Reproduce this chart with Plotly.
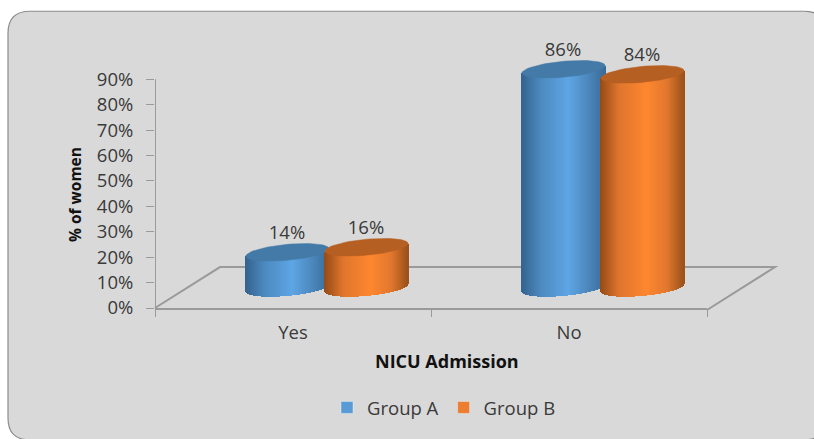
import numpy as np
import plotly.graph_objects as go

categories = ["Yes", "No"]
group_a = [14, 86]
group_b = [16, 84]
y_ticks = [0, 10, 20, 30, 40, 50, 60, 70, 80, 90]

W, H = 814, 439
L, R, B = 155, 707, 308                 # plot rectangle in pixels
PX_X = (R - L) / 2.0                    # pixels per category
PX_Y = (B - 79) / 90.0                  # pixels per percent
Y_MAX = 118                             # axis continues invisibly above 90 so the cylinders fit
T = B - Y_MAX * PX_Y
A_PX, B_PX, TILT = 41.5, 8.0, 0.09      # cylinder ellipse
BASE = 7.9                              # floor height of the cylinder base, percent
TEXT = "#3a3a3a"
TITLE = "#111111"
LINE = "#9a9a9a"
FONT = "Open Sans"
FS = 18.5


def px(x):
    return (x - L) / (R - L)


def py(y):
    return (B - y) / (B - T)


def shade(u, stops):
    pos = [-1, -0.55, 0.12, 0.6, 1]
    c = [np.interp(u, pos, [s[i] for s in stops]) for i in range(3)]
    return "rgb(%d,%d,%d)" % tuple(c)


def cylinder(values, shift_px, stops, cap):
    xs, ys, bases, cols = [], [], [], []
    cap_traces = []
    for i, v in enumerate(values):
        xc = i + shift_px / PX_X
        for d in np.arange(-A_PX, A_PX + 0.5, 1.0):
            u = d / A_PX
            front = B_PX * np.sqrt(max(0, 1 - u * u)) / PX_Y
            rise = TILT * d / PX_Y
            xs.append(xc + d / PX_X)
            bases.append(BASE + rise - front)
            ys.append(v + front)
            cols.append(shade(u, stops))
        t = np.linspace(0, 2 * np.pi, 73)
        cap_traces.append(go.Scatter(
            x=xc + A_PX * np.cos(t) / PX_X,
            y=v + BASE + (TILT * A_PX * np.cos(t) + B_PX * np.sin(t)) / PX_Y,
            mode="lines", fill="toself", fillcolor=cap, line=dict(color=cap, width=0.5),
            hoverinfo="skip", showlegend=False))
    bars = go.Bar(x=xs, y=ys, base=bases, width=1.4 / PX_X,
                  marker=dict(color=cols, line=dict(width=0)),
                  hoverinfo="skip", showlegend=False)
    return bars, cap_traces


BLUE = [(52, 100, 143), (77, 137, 191), (94, 166, 230), (76, 136, 190), (58, 108, 152)]
ORANGE = [(150, 76, 22), (224, 118, 46), (255, 135, 48), (226, 120, 46), (156, 82, 26)]
SHIFT_A, SHIFT_B = -5.5, 73.5

fig = go.Figure()
bars_a, caps_a = cylinder(group_a, SHIFT_A, BLUE, "#447aa8")
bars_b, caps_b = cylinder(group_b, SHIFT_B, ORANGE, "#b65f22")
fig.add_trace(bars_a)
fig.add_trace(bars_b)
for c in caps_a + caps_b:
    fig.add_trace(c)

for vals, shift in ((group_a, SHIFT_A), (group_b, SHIFT_B)):
    fig.add_trace(go.Scatter(
        x=[i + (shift - 0.5) / PX_X for i in range(len(vals))],
        y=[v + BASE + 7.1 for v in vals],
        text=["%d%%" % v for v in vals], mode="text", textposition="middle center",
        textfont=dict(family=FONT, size=FS, color=TEXT),
        hoverinfo="skip", showlegend=False))

# y axis line only up to the last tick
fig.add_trace(go.Scatter(x=[-0.5, -0.5], y=[y_ticks[0], y_ticks[-1]], mode="lines",
                         line=dict(color=LINE, width=2), cliponaxis=False,
                         hoverinfo="skip", showlegend=False))

fig.add_trace(go.Bar(x=[None], y=[None], name="Group A", marker_color="#5b9bd5"))
fig.add_trace(go.Bar(x=[None], y=[None], name="Group B", marker_color="#ed7d31"))

# rounded chart panel, in pixel positions converted to paper coordinates
x0, y0, x1, y1, r = 8, 11, 826, 440, 22
panel = (f"M{px(x0)},{py(y0 + r)} Q{px(x0)},{py(y0)} {px(x0 + r)},{py(y0)} "
         f"L{px(x1 - r)},{py(y0)} Q{px(x1)},{py(y0)} {px(x1)},{py(y0 + r)} "
         f"L{px(x1)},{py(y1 - r)} Q{px(x1)},{py(y1)} {px(x1 - r)},{py(y1)} "
         f"L{px(x0 + r)},{py(y1)} Q{px(x0)},{py(y1)} {px(x0)},{py(y1 - r)} Z")
floor = f"M{px(155)},{py(308)} L{px(220)},{py(267)} L{px(775)},{py(267)} L{px(707)},{py(310)}"

fig.update_layout(
    width=W, height=H, autosize=False,
    margin=dict(l=L, r=W - R, t=T, b=H - B, pad=0),
    paper_bgcolor="white", plot_bgcolor="rgba(0,0,0,0)",
    barmode="overlay", bargap=0,
    font=dict(family=FONT, size=FS, color=TEXT),
    shapes=[
        dict(type="path", xref="paper", yref="paper", path=panel, layer="below",
             fillcolor="#d9d9d9", line=dict(color="#8c8c8c", width=1.2)),
        dict(type="path", xref="paper", yref="paper", path=floor, layer="below",
             line=dict(color=LINE, width=2)),
    ],
    xaxis=dict(
        range=[-0.5, 1.5], tickmode="array", tickvals=[0, 1], ticktext=categories,
        showgrid=False, zeroline=False, showline=True, linecolor=LINE, linewidth=2,
        ticks="outside", ticklen=7, tickcolor="rgba(0,0,0,0)",
        minor=dict(tickmode="array", tickvals=[-0.5, 0.5, 1.5], ticks="outside",
                   ticklen=7, tickcolor=LINE, tickwidth=1, showgrid=False),
    ),
    yaxis=dict(
        range=[0, Y_MAX], tickmode="array", tickvals=y_ticks,
        ticktext=["%d%%" % v for v in y_ticks],
        showgrid=False, zeroline=False, showline=False,
        ticks="outside", ticklen=8, tickcolor=LINE, tickwidth=1, ticklabelstandoff=9,
    ),
    annotations=[
        dict(text="<b>NICU Admission</b>", xref="paper", yref="paper", x=px(447), y=py(361),
             xanchor="center", yanchor="middle", showarrow=False,
             font=dict(family=FONT, size=18, color=TITLE)),
        dict(text="<b>% of women</b>", xref="paper", yref="paper", x=px(75), y=py(195),
             xanchor="center", yanchor="middle", showarrow=False, textangle=-90,
             font=dict(family=FONT, size=15.5, color=TITLE)),
    ],
    legend=dict(orientation="h", x=px(344 - 17), y=py(408), xanchor="left", yanchor="middle",
                itemwidth=30, bgcolor="rgba(0,0,0,0)", traceorder="normal",
                font=dict(family=FONT, size=FS, color=TEXT)),
)

fig.write_html("out.html", config={"displayModeBar": False},
               post_script="document.body.style.margin='0';")
